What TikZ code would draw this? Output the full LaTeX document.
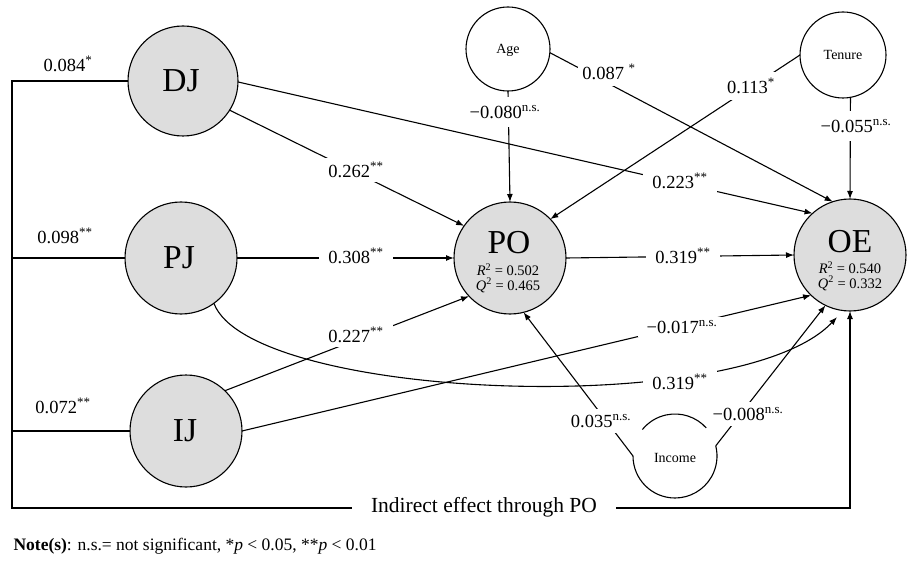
\documentclass[tikz,border=0pt]{standalone}
\usepackage{fontspec}
\setmainfont{Liberation Serif}
\usetikzlibrary{arrows.meta}
\definecolor{latfill}{RGB}{221,221,221}
\begin{document}
\begin{tikzpicture}[x=1pt,y=-1pt,line width=1.1pt,
  >={Latex[length=8pt,width=6pt]},
  lat/.style={circle,draw,fill=latfill,minimum size=112pt,inner sep=0pt,outer sep=0pt},
  ctl/.style={circle,draw,fill=white,minimum size=84pt,inner sep=0pt,outer sep=0pt},
  big/.style={inner sep=0pt,font=\fontsize{33.5}{36}\selectfont},
  small/.style={inner sep=0pt,font=\fontsize{14}{16}\selectfont},
  rq/.style={inner sep=0pt,align=center,font=\fontsize{14.5}{14.5}\selectfont},
  lab/.style={fill=white,inner xsep=9pt,inner ysep=4pt,font=\fontsize{18.5}{20}\selectfont},
  vlab/.style={lab,inner ysep=9pt,inner xsep=3pt}]
\useasboundingbox (0,0) rectangle (918,572);

% latent and control nodes
\node[lat,minimum size=110pt] (DJ) at (183,81) {};
\node[lat] (PJ) at (181,258) {};
\node[lat] (IJ) at (186,431) {};
\node[lat] (PO) at (510,258) {};
\node[lat] (OE) at (850,255) {};
\node[ctl] (Age) at (508,49) {};
\node[ctl,minimum size=86pt] (Ten) at (843,55) {};
\node[ctl,draw=none] (Inc) at (675,456) {};
\draw (Inc.180) arc[start angle=180,end angle=374,radius=42pt];
\draw (Inc.42) arc[start angle=42,end angle=141,radius=42pt];

% texts inside nodes
\node[big] (DJt) at (181,81) {DJ};
\node[big] (PJt) at (179,258) {PJ};
\node[big] (IJt) at (185,431) {IJ};
\node[big] (POt) at (509,243) {PO};
\node[rq] (POrq) at (508,278) {\textit{R}\textsuperscript{2} = 0.502\\\textit{Q}\textsuperscript{2} = 0.465};
\node[big] (OEt) at (850,242) {OE};
\node[rq] (OErq) at (850,276) {\textit{R}\textsuperscript{2} = 0.540\\\textit{Q}\textsuperscript{2} = 0.332};
\node[small] (Aget) at (508,50) {Age};
\node[small] (Tent) at (843,55) {Tenure};
\node[small] (Inct) at (675,458) {Income};

% connectors
\draw[->] (DJ.-32) -- (PO.145);
\draw[->] (PJ.east) -- (PO.west);
\draw[->] (IJ.46) -- (PO.-137);
\draw[->] (DJ.-1) -- (OE.132);
\draw[->] (PO.east) -- (OE.west);
\draw[->,shorten >=9pt] (PJ.-54) .. controls (250,400) and (740,420) .. (OE.-97);
\draw[->] (IJ.east) -- (OE.-134);
\draw[->] (Age.south) -- (PO.north);
\draw[->] (Age.-5) -- (OE.108);
\draw[->] (Ten.west) -- (PO.44);
\draw[->] (Ten.-80) -- (OE.north);
\draw[->] (Inc.west) -- (PO.-76);
\draw[->] (Inc.14) -- (OE.-116);

% indirect bracket
\coordinate (c1) at (12,81);
\coordinate (c2) at (12,508);
\draw[->] (DJ.west) -- (c1) -- (c2) -| (OE.south);
\draw (PJ.west) -- (PJ.west -| c1);
\draw (IJ.west) -- (IJ.west -| c1);
\node[fill=white,inner xsep=19pt,inner ysep=3pt,font=\fontsize{21.5}{24}\selectfont] (ind) at (484,507) {Indirect effect through PO};

% labels
\node[inner sep=0pt,font=\fontsize{18.5}{20}\selectfont] (l1) at (68,64) {0.084\textsuperscript{*}};
\node[inner sep=0pt,font=\fontsize{18.5}{20}\selectfont] (l2) at (65,236) {0.098\textsuperscript{**}};
\node[inner sep=0pt,font=\fontsize{18.5}{20}\selectfont] (l3) at (63,406) {0.072\textsuperscript{**}};
\node[lab] (l4) at (356,170) {0.262\textsuperscript{**}};
\node[lab] (l5) at (356,256) {0.308\textsuperscript{**}};
\node[lab] (l6) at (356,335) {0.227\textsuperscript{**}};
\node[lab] (l7) at (680,181) {0.223\textsuperscript{**}};
\node[lab] (l8) at (683,256) {0.319\textsuperscript{**}};
\node[lab] (l9) at (680,382) {0.319\textsuperscript{**}};
\node[lab] (l10) at (682,327) {−0.017\textsuperscript{n.s.}};
\node[vlab] (l11) at (505,112) {−0.080\textsuperscript{n.s.}};
\node[lab,inner xsep=4pt,inner ysep=6pt] (l12) at (609,72) {0.087 \textsuperscript{*}};
\node[lab,inner xsep=4pt,inner ysep=6pt] (l13) at (751,86) {0.113\textsuperscript{*}};
\node[vlab] (l14) at (856,126) {−0.055\textsuperscript{n.s.}};
\node[lab,inner xsep=3pt,inner ysep=6pt] (l15) at (601,421) {0.035\textsuperscript{n.s.}};
\node[lab,inner xsep=3pt,inner ysep=6pt] (l16) at (748,414) {−0.008\textsuperscript{n.s.}};

% note
\node[anchor=west,inner sep=0pt,font=\fontsize{17.5}{19}\selectfont] (note) at (13,546)
  {\textbf{Note(s)}: n.s.= not significant, *\textit{p} < 0.05, **\textit{p} < 0.01};
\end{tikzpicture}
\end{document}
